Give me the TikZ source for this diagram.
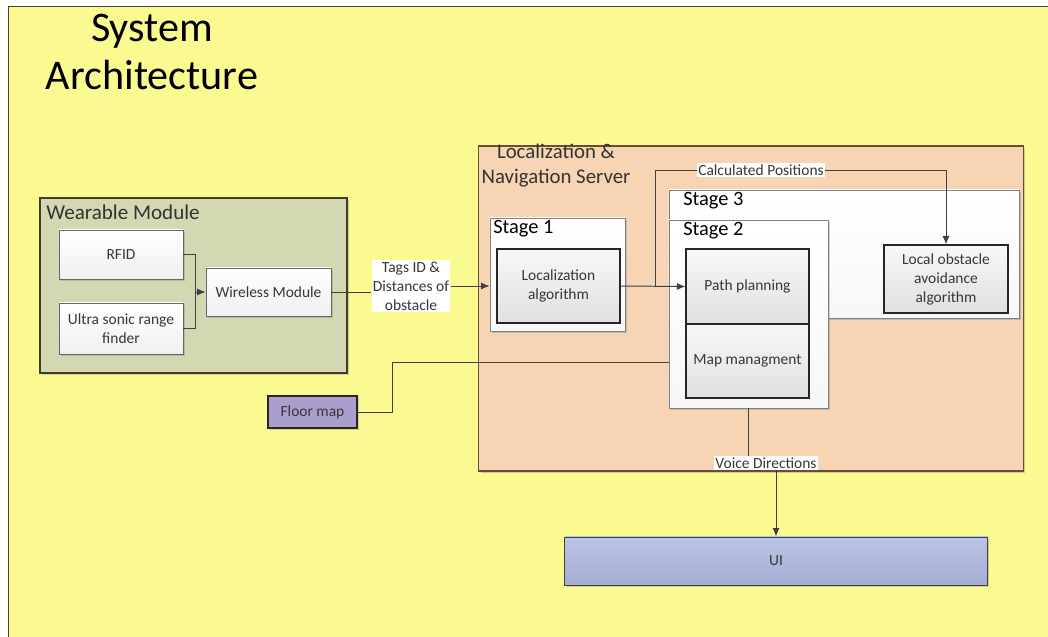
\documentclass[tikz,border=0pt]{standalone}
\usepackage{fontspec}
\setmainfont{Carlito}
\usetikzlibrary{arrows.meta,shadows}

\definecolor{pageyellow}{RGB}{250,250,145}
\definecolor{wearfill}{RGB}{211,215,178}
\definecolor{wearline}{RGB}{62,62,42}
\definecolor{serverfill}{RGB}{247,212,180}
\definecolor{serverline}{RGB}{105,78,50}
\definecolor{floorfill}{RGB}{170,158,205}
\definecolor{uitop}{RGB}{186,196,230}
\definecolor{uibottom}{RGB}{164,174,212}
\definecolor{wire}{RGB}{64,64,64}
\definecolor{txt}{RGB}{55,55,55}

\begin{document}
\begin{tikzpicture}[x=0.025cm, y=-0.025cm, >={Latex[length=6pt,width=5pt]}]

\tikzset{
  smalltext/.style={font=\fontsize{11}{13.5}\selectfont, text=txt, align=center},
  stagetext/.style={anchor=north west, font=\fontsize{14.5}{17}\selectfont, inner sep=0pt},
  shade/.style={drop shadow={shadow xshift=1.5pt, shadow yshift=-1.5pt, opacity=0.35}},
  group/.style={draw=wire, line width=0.8pt, shade},
  stagebox/.style={draw=gray, line width=0.6pt, top color=white, bottom color=gray!6, shade},
  whitebox/.style={smalltext, draw=gray!80!black, line width=0.6pt, top color=white, bottom color=gray!12, shade},
  algbox/.style={smalltext, draw=black!85, line width=0.8pt, top color=gray!6, bottom color=gray!24},
  flowlabel/.style={smalltext, fill=white, inner sep=1pt},
  wire/.style={draw=wire, line width=0.7pt}
}

\useasboundingbox (0,0) rectangle (1048,637);

% Page
\fill[white] (0,0) rectangle (1048,637);
\fill[pageyellow] (8,6) rectangle (1048,637);
\draw[wire] (8,637) -- (8,6) -- (1048,6);   % page edges

% Title
\node[font=\fontsize{30}{34}\selectfont, align=center] (title) at (152,52) {System\\Architecture};

% Wearable module
\node[group, fill=wearfill, draw=wearline, minimum width=7.675cm, minimum height=4.375cm] (wear) at (193.5,285.5) {};
\node[anchor=north west, font=\fontsize{15}{18}\selectfont, text=black!80, inner sep=0pt] (wearlbl) at (46,205) {Wearable Module};
\node[whitebox, minimum width=3.1cm, minimum height=1.225cm] (rfid) at (121,254.5) {RFID};
\node[whitebox, minimum width=3.1cm, minimum height=1.275cm] (sonar) at (121,328.5) {Ultra sonic range\\finder};
\node[whitebox, minimum width=3.125cm, minimum height=1.2cm] (wireless) at (268.5,292) {Wireless Module};

% Server
\node[group, fill=serverfill, draw=serverline, minimum width=13.6cm, minimum height=8.125cm] (server) at (751,308.5) {};
\node[anchor=north, font=\fontsize{14.8}{17.5}\selectfont, text=black!80, align=center, inner sep=0pt] (serverlbl) at (556,144) {Localization \&\\Navigation Server};

% Stages
\node[stagebox, minimum width=3.375cm, minimum height=2.825cm] (stage1) at (557.5,274.5) {};
\node[stagetext] at (493,220) {Stage 1};
\node[stagebox, minimum width=8.75cm, minimum height=3.2cm] (stage3) at (844,254) {};
\node[stagetext] at (683,192) {Stage 3};
\node[stagebox, minimum width=3.975cm, minimum height=4.7cm] (stage2) at (748.5,314) {};
\node[stagetext] at (683,222) {Stage 2};

% Algorithms
\node[algbox, minimum width=3.075cm, minimum height=1.85cm] (localg) at (558.5,286) {Localization\\algorithm};
\node[algbox, minimum width=3.075cm, minimum height=1.875cm] (path) at (747.5,286.5) {Path planning};
\node[algbox, minimum width=3.075cm, minimum height=1.85cm] (mapmg) at (747.5,361) {Map managment};
\node[algbox, minimum width=3.1cm, minimum height=1.7cm] (avoid) at (946,279) {Local obstacle\\avoidance\\algorithm};

% Outside boxes
\node[smalltext, draw=black!85, line width=0.8pt, fill=floorfill, shade, minimum width=2.225cm, minimum height=0.8cm] (floor) at (312.5,412) {Floor map};
\node[smalltext, draw=wire, line width=0.7pt, top color=uitop, bottom color=uibottom, shade, minimum width=10.55cm, minimum height=1.2cm] (ui) at (776,561) {UI};

% Connector labels
\node[flowlabel] (tags) at (411,286) {Tags ID \&\\Distances of\\obstacle};
\node[flowlabel] (calc) at (761,170) {Calculated Positions};
\node[flowlabel] (voice) at (766,463) {Voice Directions};

% Join points
\coordinate (join) at (195,292);     % RFID / sonar merge
\coordinate (split) at (655,286);    % branch to stage 3
\coordinate (fmturn) at (392,412);   % floor map bend
\coordinate (fmend) at (669,362);    % into stage 2

% Connectors
\draw[wire] (rfid.east) -| (join);
\draw[wire] (sonar.east) -| (join);
\draw[wire, ->] (join) -- (wireless.west);
\draw[wire] (wireless.east) -- (tags.west |- wireless.east);
\draw[wire, ->] (tags.east) -- (tags.east -| stage1.west);
\draw[wire, ->] (localg.east) -- (path.west);
\draw[wire] (split) |- (calc.west);
\draw[wire, ->] (calc.east) -| (avoid.north);
\draw[wire] (floor.east) -- (fmturn) |- (fmend);
\draw[wire] (stage2.south) -- (stage2.south |- voice.north);
\draw[wire, ->] (voice.south -| ui.north) -- (ui.north);

\end{tikzpicture}
\end{document}
